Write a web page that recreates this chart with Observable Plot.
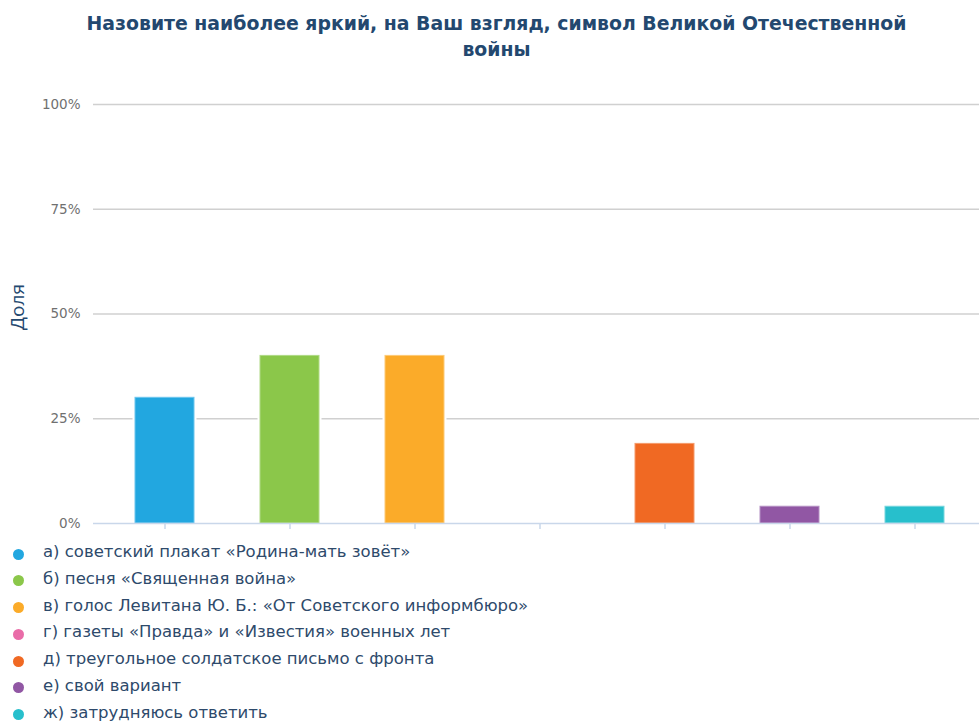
<!DOCTYPE html>
<html><head><meta charset="utf-8">
<script src="https://cdn.jsdelivr.net/npm/d3@7"></script>
<script src="https://cdn.jsdelivr.net/npm/@observablehq/plot@0.6"></script>
<style>
body{margin:0;background:#fff;width:979px;height:722px;overflow:hidden;position:relative}
#title{position:absolute;left:0;top:11px;width:993px;text-align:center;font:bold 18.85px "DejaVu Sans",sans-serif;color:#23486f;line-height:25.7px}
#ylabel{position:absolute;left:17px;top:307px;transform:translate(-50%,-50%) rotate(-90deg);font:19px "Open Sans",sans-serif;color:#24486f;white-space:nowrap;line-height:1}
#chart{position:absolute;left:0;top:72px}
#legend{position:absolute;left:0;top:539px}
.item{position:relative;height:26.8px;line-height:26.8px;font:16.5px "DejaVu Sans",sans-serif;color:#2e4a6b;white-space:nowrap}
.dot{position:absolute;left:12.5px;top:9.5px;width:11px;height:11px;border-radius:50%}
.lab{position:absolute;left:43px;top:3px}
</style></head>
<body>
<div id="title">Назовите наиболее яркий, на Ваш взгляд, символ Великой Отечественной<br>войны</div>
<div id="ylabel">Доля</div>
<div id="chart"></div>
<div id="legend"></div>
<script>
const categories = [
  "а) советский плакат «Родина-мать зовёт»",
  "б) песня «Священная война»",
  "в) голос Левитана Ю. Б.: «От Советского информбюро»",
  "г) газеты «Правда» и «Известия» военных лет",
  "д) треугольное солдатское письмо с фронта",
  "е) свой вариант",
  "ж) затрудняюсь ответить"
];
const values = [0.30, 0.40, 0.40, 0.0, 0.19, 0.04, 0.04];
const colors = ["#22a7e0", "#8bc74a", "#fbab29", "#e96ca8", "#f06923", "#9157a4", "#27bfcc"];
const strokes = ["#6cc6ee", "#b0da85", "#fdca77", "#f2a3c9", "#f59a6b", "#b48fc3", "#76d6de"];
const yTicks = [0, 0.25, 0.5, 0.75, 1];
const yTickLabels = ["0%", "25%", "50%", "75%", "100%"];

const data = categories.map((c, i) => ({cat: c, value: values[i], color: colors[i], stroke: strokes[i]}));

const chart = Plot.plot({
  width: 979,
  height: 470,
  marginTop: 32,
  marginBottom: 19,
  marginLeft: 93,
  marginRight: 0,
  style: {background: "transparent", fontFamily: "DejaVu Sans", fontSize: "13.5px"},
  x: {domain: categories, paddingInner: 0.53, paddingOuter: 0.265, insetLeft: 6, axis: null},
  y: {domain: [0, 1], axis: null},
  marks: [
    Plot.ruleY(yTicks.slice(1), {stroke: "#d0d0d0", strokeWidth: 1.5, strokeOpacity: 1}),
    Plot.barY(data, {x: "cat", y: "value", fill: "white", stroke: "white", strokeWidth: 5}),
    Plot.barY(data, {x: "cat", y: "value", fill: "color", stroke: "stroke", strokeWidth: 1}),
    Plot.ruleY([0], {stroke: "#c9d7ea", strokeWidth: 1.5}),
    Plot.axisX({tickSize: 6, tickFormat: () => "", label: null, stroke: "#c9d7ea", strokeWidth: 1.5}),
    Plot.text(yTicks, {y: d => d, frameAnchor: "left", dx: -13, textAnchor: "end",
      text: (d, i) => yTickLabels[i], fill: "#707070", fontSize: 13.5})
  ]
});
document.getElementById("chart").append(chart);

const legend = document.getElementById("legend");
categories.forEach((c, i) => {
  const item = document.createElement("div");
  item.className = "item";
  const dot = document.createElement("span");
  dot.className = "dot";
  dot.style.background = colors[i];
  const lab = document.createElement("span");
  lab.className = "lab";
  lab.textContent = c;
  item.append(dot, lab);
  legend.append(item);
});
</script>
</body></html>
